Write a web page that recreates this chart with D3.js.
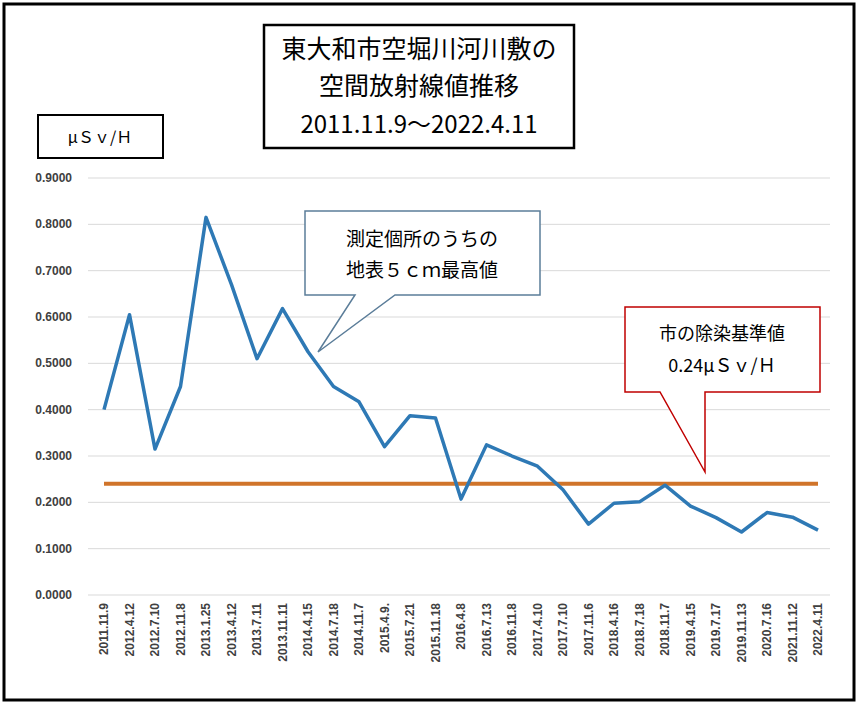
<!DOCTYPE html><html><head><meta charset="utf-8"><script src="https://cdn.jsdelivr.net/npm/d3@7"></script>
<style>body{margin:0;background:#fff}</style></head><body><svg id="c" width="858" height="705"></svg>
<script>
const categories=["2011.11.9","2012.4.12","2012.7.10","2012.11.8","2013.1.25","2013.4.12","2013.7.11","2013.11.11","2014.4.15","2014.7.18","2014.11.7","2015.4.9.","2015.7.21","2015.11.18","2016.4.8","2016.7.13","2016.11.8","2017.4.10","2017.7.10","2017.11.6","2018.4.16","2018.7.18","2018.11.7","2019.4.15","2019.7.17","2019.11.13","2020.7.16","2021.11.12","2022.4.11"];
const values=[0.400,0.605,0.315,0.450,0.815,0.670,0.510,0.618,0.525,0.450,0.417,0.320,0.387,0.382,0.207,0.324,0.300,0.278,0.227,0.153,0.198,0.201,0.237,0.192,0.167,0.136,0.178,0.168,0.140];
const standard=0.24;
const yTicks=[0,0.1,0.2,0.3,0.4,0.5,0.6,0.7,0.8,0.9];
const svg=d3.select("#c");
const F="'Noto Sans CJK JP','Noto Sans',sans-serif";
svg.append("rect").attr("x",4).attr("y",4).attr("width",850).attr("height",696).attr("fill","#fff").attr("stroke","#000").attr("stroke-width",3);
const x=d3.scalePoint().domain(categories).range([104,818]);
const y=d3.scaleLinear().domain([0,0.9]).range([595,178]);
const g=svg.append("g");
g.selectAll("line.grid").data(yTicks).join("line").attr("x1",88).attr("x2",830).attr("y1",d=>y(d)).attr("y2",d=>y(d)).attr("stroke","#d9d9d9");
g.selectAll("text.yt").data(yTicks).join("text").attr("x",72).attr("y",d=>y(d)+4).attr("text-anchor","end").attr("font-size",12).attr("font-weight","bold").attr("fill","#404040").attr("font-family","Arial,'Liberation Sans'").text(d=>d.toFixed(4));
g.selectAll("text.xt").data(categories).join("text").attr("transform",d=>`translate(${x(d)+4},603) rotate(-90)`).attr("text-anchor","end").attr("font-size",12).attr("font-weight","bold").attr("fill","#404040").attr("font-family","Arial,'Liberation Sans'").text(d=>d);
g.append("line").attr("x1",x(categories[0])).attr("x2",x(categories[categories.length-1])).attr("y1",y(standard)).attr("y2",y(standard)).attr("stroke","#d0742a").attr("stroke-width",4);
g.append("path").datum(values).attr("fill","none").attr("stroke","#2e79b5").attr("stroke-width",3.5).attr("stroke-linejoin","round")
 .attr("d",d3.line().x((d,i)=>x(categories[i])).y(d=>y(d)));
// title box
svg.append("rect").attr("x",264).attr("y",25).attr("width",310).attr("height",123).attr("fill","#fff").attr("stroke","#000").attr("stroke-width",2.5);
svg.append("text").attr("x",419).attr("y",58).attr("text-anchor","middle").attr("font-size",25).attr("font-family",F).text("東大和市空堀川河川敷の");
svg.append("text").attr("x",419).attr("y",95).attr("text-anchor","middle").attr("font-size",25).attr("font-family",F).text("空間放射線値推移");
svg.append("text").attr("x",419).attr("y",133).attr("text-anchor","middle").attr("font-size",24).attr("font-family",F).text("2011.11.9〜2022.4.11");
// unit box
svg.append("rect").attr("x",38).attr("y",115).attr("width",125).attr("height",43).attr("fill","#fff").attr("stroke","#000").attr("stroke-width",2);
svg.append("text").attr("x",100).attr("y",143).attr("text-anchor","middle").attr("font-size",16).attr("font-family",F).text("μＳｖ/Ｈ");
// callout 1
svg.append("path").attr("d","M305,211 H540 V295 H395 L318,352 L355,295 H305 Z").attr("fill","#fff").attr("stroke","#5b7d99").attr("stroke-width",1.5);
svg.append("text").attr("x",422).attr("y",246).attr("text-anchor","middle").attr("font-size",19).attr("font-family",F).text("測定個所のうちの");
svg.append("text").attr("x",422).attr("y",277).attr("text-anchor","middle").attr("font-size",19).attr("font-family",F).text("地表５ｃｍ最高値");
// callout 2
svg.append("path").attr("d","M625,307 H820 V392 H705 L705,472 L660,392 H625 Z").attr("fill","#fff").attr("stroke","#c00000").attr("stroke-width",1.5);
svg.append("text").attr("x",722).attr("y",340).attr("text-anchor","middle").attr("font-size",18).attr("font-family",F).text("市の除染基準値");
svg.append("text").attr("x",722).attr("y",372).attr("text-anchor","middle").attr("font-size",18).attr("font-family",F).text("0.24μＳｖ/Ｈ");
</script></body></html>
